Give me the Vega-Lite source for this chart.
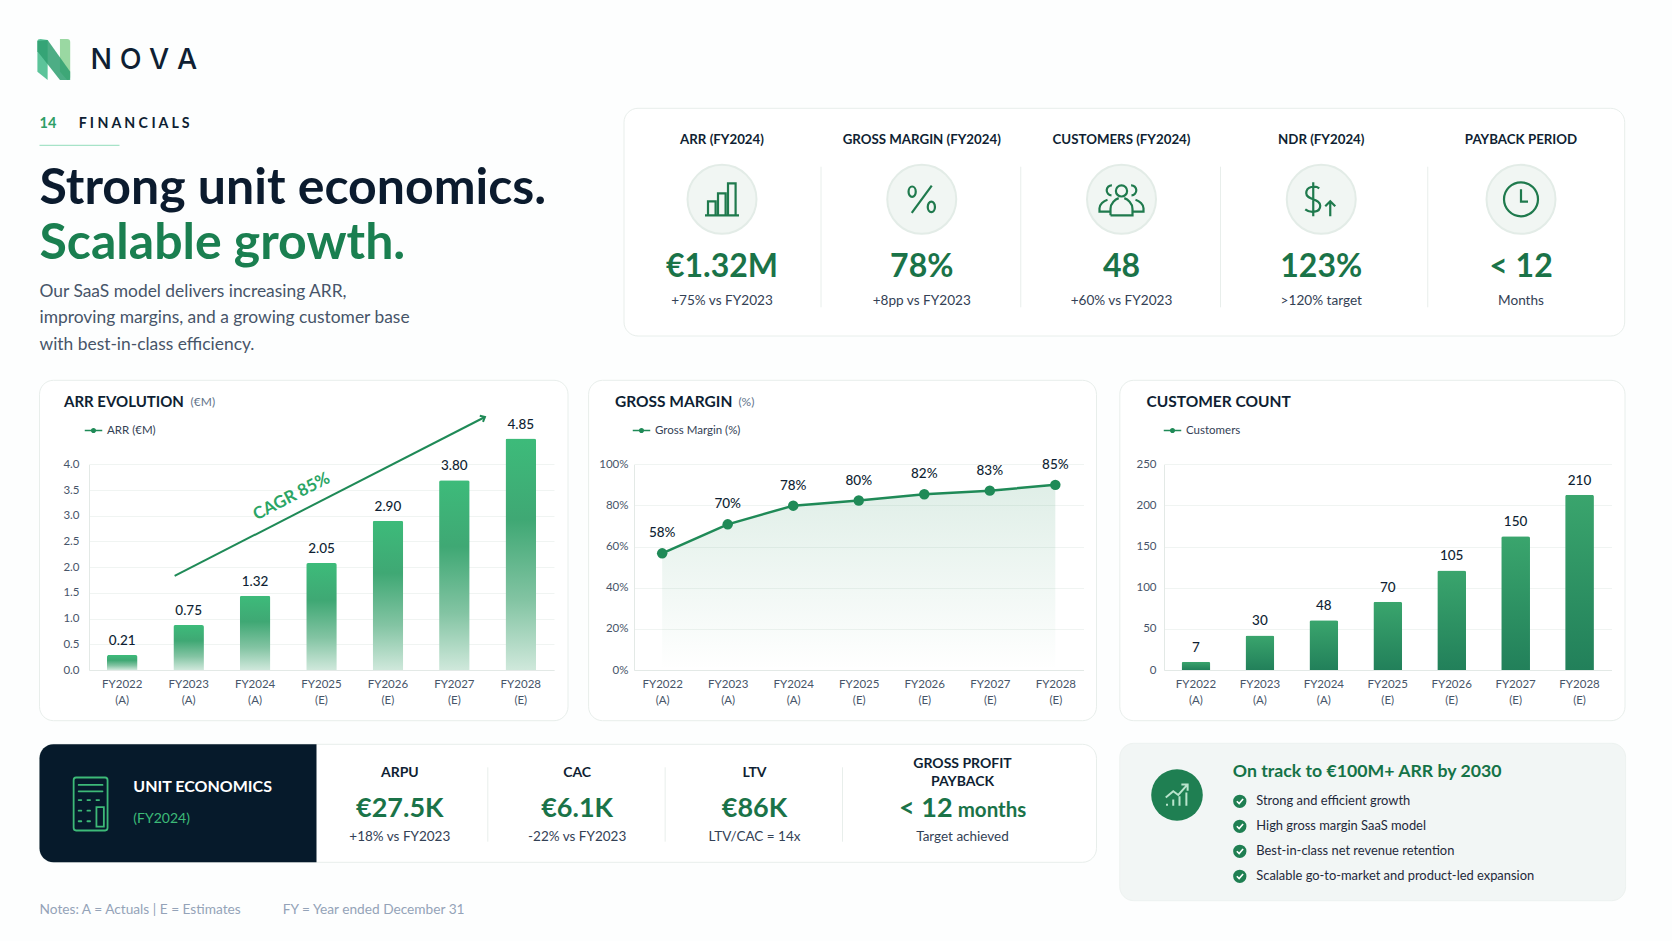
{
  "$schema": "https://vega.github.io/schema/vega-lite/v6.json",
  "background": "#fdfefe",
  "padding": 0,
  "bounds": "flush",
  "spacing": 80,
  "resolve": {"scale": {"color": "independent"}, "legend": {"color": "independent"}},
  "datasets": {
    "kpis": [
      {"metric": "ARR (FY2024)", "value": "€1.32M", "note": "+75% vs FY2023"},
      {"metric": "GROSS MARGIN (FY2024)", "value": "78%", "note": "+8pp vs FY2023"},
      {"metric": "CUSTOMERS (FY2024)", "value": "48", "note": "+60% vs FY2023"},
      {"metric": "NDR (FY2024)", "value": "123%", "note": ">120% target"},
      {"metric": "PAYBACK PERIOD", "value": "< 12", "note": "Months"}
    ],
    "unit": [
      {"metric": "ARPU", "value": "€27.5K", "note": "+18% vs FY2023"},
      {"metric": "CAC", "value": "€6.1K", "note": "-22% vs FY2023"},
      {"metric": "LTV", "value": "€86K", "note": "LTV/CAC = 14x"}
    ],
    "points": [
      {"item": "Strong and efficient growth"},
      {"item": "High gross margin SaaS model"},
      {"item": "Best-in-class net revenue retention"},
      {"item": "Scalable go-to-market and product-led expansion"}
    ],
    "arr": [
      {"year": "FY2022 (A)", "bar": 0.29, "label": "0.21"},
      {"year": "FY2023 (A)", "bar": 0.875, "label": "0.75"},
      {"year": "FY2024 (A)", "bar": 1.445, "label": "1.32"},
      {"year": "FY2025 (E)", "bar": 2.08, "label": "2.05"},
      {"year": "FY2026 (E)", "bar": 2.9, "label": "2.90"},
      {"year": "FY2027 (E)", "bar": 3.69, "label": "3.80"},
      {"year": "FY2028 (E)", "bar": 4.5, "label": "4.85"}
    ],
    "margin": [
      {"year": "FY2022 (A)", "pct": 56.7, "label": "58%"},
      {"year": "FY2023 (A)", "pct": 70.8, "label": "70%"},
      {"year": "FY2024 (A)", "pct": 79.9, "label": "78%"},
      {"year": "FY2025 (E)", "pct": 82.4, "label": "80%"},
      {"year": "FY2026 (E)", "pct": 85.4, "label": "82%"},
      {"year": "FY2027 (E)", "pct": 87.2, "label": "83%"},
      {"year": "FY2028 (E)", "pct": 90, "label": "85%"}
    ],
    "customers": [
      {"year": "FY2022 (A)", "bar": 10, "label": "7"},
      {"year": "FY2023 (A)", "bar": 42, "label": "30"},
      {"year": "FY2024 (A)", "bar": 60.4, "label": "48"},
      {"year": "FY2025 (E)", "bar": 83, "label": "70"},
      {"year": "FY2026 (E)", "bar": 121, "label": "105"},
      {"year": "FY2027 (E)", "bar": 162.5, "label": "150"},
      {"year": "FY2028 (E)", "bar": 213, "label": "210"}
    ]
  },
  "hconcat": [
    {
      "width": 9,
      "height": 941,
      "data": {"values": [{}]},
      "resolve": {"scale": {"x": "independent", "y": "independent", "shape": "independent"}},
      "layer": [
        {"mark": {"type": "rect", "fill": "#fdfefe"}, "encoding": {"x": {"value": 0}, "x2": {"value": 1672}, "y": {"value": 0}, "y2": {"value": 941}}},
        {"mark": {"type": "point", "filled": true, "fill": "#5cc49a", "opacity": 1, "size": 1681, "shape": "M-0.8,-0.9Q-0.8,-1 -0.65,-1L-0.3,-0.95L-0.3,1L-0.8,0.6Z"}, "encoding": {"x": {"value": 53.8}, "y": {"value": 59.5}}},
        {"mark": {"type": "point", "filled": true, "fill": "#9ad8a2", "opacity": 1, "size": 1681, "shape": "M0.3,-1L0.65,-1Q0.8,-1 0.8,-0.85L0.8,0.85Q0.8,1 0.65,1L0.3,0.6Z"}, "encoding": {"x": {"value": 53.8}, "y": {"value": 59.5}}},
        {"mark": {"type": "point", "filled": true, "fill": "#2e9f70", "opacity": 0.85, "size": 1681, "shape": "M-0.8,-0.9L-0.3,-0.95L0.8,0.6L0.8,1L0.3,1L-0.8,-0.4Z"}, "encoding": {"x": {"value": 53.8}, "y": {"value": 59.5}}},
        {"mark": {"type": "text", "align": "left", "baseline": "middle", "fontSize": 28.5, "fontWeight": 500, "font": "Inter", "color": "#0f1f33"}, "encoding": {"x": {"value": 90.5}, "y": {"value": 60}, "text": {"value": "N O V A"}}},
        {"mark": {"type": "text", "align": "left", "baseline": "middle", "fontSize": 14.5, "fontWeight": 700, "color": "#2e9e66"}, "encoding": {"x": {"value": 39.5}, "y": {"value": 124}, "text": {"value": "14"}}},
        {"mark": {"type": "text", "align": "left", "baseline": "middle", "fontSize": 14.2, "fontWeight": 700, "color": "#0f1f33"}, "encoding": {"x": {"value": 78.7}, "y": {"value": 124}, "text": {"value": "F I N A N C I A L S"}}},
        {"mark": {"type": "rule", "stroke": "#a7e3c8", "strokeWidth": 1.2}, "encoding": {"x": {"value": 39.5}, "x2": {"value": 119.5}, "y": {"value": 145.3}}},
        {"mark": {"type": "text", "align": "left", "baseline": "alphabetic", "fontSize": 50, "fontWeight": 700, "color": "#0b1b2e"}, "encoding": {"x": {"value": 39.5}, "y": {"value": 203.7}, "text": {"value": "Strong unit economics."}}},
        {"mark": {"type": "text", "align": "left", "baseline": "alphabetic", "fontSize": 50, "fontWeight": 700, "color": "#1a7f50"}, "encoding": {"x": {"value": 39.5}, "y": {"value": 259.3}, "text": {"value": "Scalable growth."}}},
        {"mark": {"type": "text", "align": "left", "baseline": "middle", "fontSize": 17.4, "color": "#475569"}, "encoding": {"x": {"value": 39.5}, "y": {"value": 291.7}, "text": {"value": "Our SaaS model delivers increasing ARR,"}}},
        {"mark": {"type": "text", "align": "left", "baseline": "middle", "fontSize": 17.4, "color": "#475569"}, "encoding": {"x": {"value": 39.5}, "y": {"value": 318.3}, "text": {"value": "improving margins, and a growing customer base"}}},
        {"mark": {"type": "text", "align": "left", "baseline": "middle", "fontSize": 17.4, "color": "#475569"}, "encoding": {"x": {"value": 39.5}, "y": {"value": 345}, "text": {"value": "with best-in-class efficiency."}}},

        {"mark": {"type": "rect", "fill": "#ffffff", "stroke": "#e8eeeb", "cornerRadius": 14}, "encoding": {"x": {"value": 624}, "x2": {"value": 1624.7}, "y": {"value": 108.3}, "y2": {"value": 336}}},
        {"mark": {"type": "rect", "fill": "#ffffff", "stroke": "#e8eeeb", "cornerRadius": 14}, "encoding": {"x": {"value": 39.5}, "x2": {"value": 568}, "y": {"value": 380.3}, "y2": {"value": 720.7}}},
        {"mark": {"type": "rect", "fill": "#ffffff", "stroke": "#e8eeeb", "cornerRadius": 14}, "encoding": {"x": {"value": 588.6}, "x2": {"value": 1096.5}, "y": {"value": 380.3}, "y2": {"value": 720.7}}},
        {"mark": {"type": "rect", "fill": "#ffffff", "stroke": "#e8eeeb", "cornerRadius": 14}, "encoding": {"x": {"value": 1119.8}, "x2": {"value": 1625}, "y": {"value": 380.3}, "y2": {"value": 720.7}}},
        {"mark": {"type": "rect", "fill": "#ffffff", "stroke": "#e8eeeb", "cornerRadius": 14}, "encoding": {"x": {"value": 39.5}, "x2": {"value": 1096.5}, "y": {"value": 744.3}, "y2": {"value": 862.3}}},
        {"mark": {"type": "rect", "fill": "#061a2b", "cornerRadiusTopLeft": 14, "cornerRadiusBottomLeft": 14}, "encoding": {"x": {"value": 39.5}, "x2": {"value": 316.5}, "y": {"value": 744.3}, "y2": {"value": 862.3}}},
        {"mark": {"type": "rect", "fill": "#f2f6f5", "stroke": "#edf2f0", "cornerRadius": 14}, "encoding": {"x": {"value": 1119.8}, "x2": {"value": 1625.6}, "y": {"value": 743.3}, "y2": {"value": 900.7}}},

        {"mark": {"type": "text", "align": "left", "baseline": "middle", "fontSize": 15, "fontWeight": 700, "color": "#0f1f33"}, "encoding": {"x": {"value": 64}, "y": {"value": 401.7}, "text": {"value": "ARR EVOLUTION"}}},
        {"mark": {"type": "text", "align": "left", "baseline": "middle", "fontSize": 12, "color": "#64748b"}, "encoding": {"x": {"value": 190.6}, "y": {"value": 402}, "text": {"value": "(€M)"}}},
        {"mark": {"type": "text", "align": "left", "baseline": "middle", "fontSize": 15.5, "fontWeight": 700, "color": "#0f1f33"}, "encoding": {"x": {"value": 615}, "y": {"value": 401.7}, "text": {"value": "GROSS MARGIN"}}},
        {"mark": {"type": "text", "align": "left", "baseline": "middle", "fontSize": 12, "color": "#64748b"}, "encoding": {"x": {"value": 738.4}, "y": {"value": 402}, "text": {"value": "(%)"}}},
        {"mark": {"type": "text", "align": "left", "baseline": "middle", "fontSize": 15.5, "fontWeight": 700, "color": "#0f1f33"}, "encoding": {"x": {"value": 1146.5}, "y": {"value": 401.7}, "text": {"value": "CUSTOMER COUNT"}}},

        {
          "data": {"name": "kpis"},
          "encoding": {"x": {"field": "metric", "type": "nominal", "axis": null, "sort": null, "scale": {"type": "point", "range": [722, 1521], "padding": 0}}},
          "layer": [
            {"transform": [{"filter": "datum.metric != 'PAYBACK PERIOD' && datum.metric != 'NDR (FY2024)'"}], "mark": {"type": "rule", "stroke": "#e8eeeb", "xOffset": 99}, "encoding": {"y": {"value": 166.7}, "y2": {"value": 307.3}}},
            {"transform": [{"filter": "datum.metric == 'NDR (FY2024)'"}], "mark": {"type": "rule", "stroke": "#e8eeeb", "xOffset": 106.5}, "encoding": {"y": {"value": 166.7}, "y2": {"value": 307.3}}},
            {"mark": {"type": "point", "filled": true, "fill": "#f1f6f3", "stroke": "#e3ece7", "opacity": 1, "shape": "circle", "size": 4761}, "encoding": {"y": {"value": 199.3}}},
            {"mark": {"type": "point", "filled": false, "stroke": "#1f7a4d", "strokeWidth": 2.2, "opacity": 1, "size": 1600}, "encoding": {"y": {"value": 199.3}, "shape": {"field": "metric", "type": "nominal", "legend": null, "sort": null, "scale": {"domain": ["ARR (FY2024)", "GROSS MARGIN (FY2024)", "CUSTOMERS (FY2024)", "NDR (FY2024)", "PAYBACK PERIOD"], "range": [
              "M-0.85,0.8H0.85M-0.7,0.8V0.1H-0.32V0.8M-0.2,0.8V-0.3H0.18V0.8M0.3,0.8V-0.8H0.68V0.8",
              "M0.5,-0.68L-0.5,0.68M-0.66,-0.38a0.18,0.26 0 1,0 0.36,0a0.18,0.26 0 1,0 -0.36,0M0.3,0.38a0.18,0.26 0 1,0 0.36,0a0.18,0.26 0 1,0 -0.36,0",
              "M-0.28,-0.42a0.28,0.28 0 1,1 0.56,0a0.28,0.28 0 1,1 -0.56,0M-0.55,0.8V0.48C-0.55,0.18 -0.3,0 -0.14,-0.06M0.14,-0.06C0.3,0 0.55,0.18 0.55,0.48V0.8H-0.55M-0.48,-0.7A0.25,0.25 0 0,0 -0.5,-0.2M-0.7,0.02C-0.9,0.08 -1.1,0.25 -1.1,0.45V0.62H-0.55M0.48,-0.7A0.25,0.25 0 0,1 0.5,-0.2M0.7,0.02C0.9,0.08 1.1,0.25 1.1,0.45V0.62H0.55",
              "M-0.1,-0.55C-0.3,-0.7 -0.75,-0.65 -0.75,-0.3C-0.75,0.05 -0.05,-0.05 -0.05,0.32C-0.05,0.68 -0.55,0.7 -0.8,0.5M-0.4,-0.85V0.85M0.45,0.85V0.1M0.2,0.35L0.45,0.1L0.7,0.35",
              "M-0.85,0a0.85,0.85 0 1,1 1.7,0a0.85,0.85 0 1,1 -1.7,0M0,-0.5V0.12H0.35"
            ]}}}},
            {"mark": {"type": "text", "baseline": "middle", "fontSize": 13.3, "fontWeight": 700, "color": "#0f1f33"}, "encoding": {"y": {"value": 140}, "text": {"field": "metric"}}},
            {"mark": {"type": "text", "baseline": "middle", "fontSize": 32, "fontWeight": 700, "color": "#1a7348"}, "encoding": {"y": {"value": 266.7}, "text": {"field": "value"}}},
            {"mark": {"type": "text", "baseline": "middle", "fontSize": 13.6, "color": "#334155"}, "encoding": {"y": {"value": 301}, "text": {"field": "note"}}}
          ]
        },

        {"mark": {"type": "point", "filled": false, "stroke": "#3dba78", "strokeWidth": 1.8, "strokeCap": "round", "opacity": 1, "size": 2809, "shape": "M-0.55,-1H0.55Q0.64,-1 0.64,-0.9V0.9Q0.64,1 0.55,1H-0.55Q-0.64,1 -0.64,0.9V-0.9Q-0.64,-1 -0.55,-1ZM-0.45,-0.72H0.45M-0.45,-0.48H0.45M-0.45,-0.15h0.1M-0.12,-0.15h0.1M0.22,-0.15h0.1M-0.45,0.25h0.1M-0.12,0.25h0.1M-0.45,0.65h0.1M-0.12,0.65h0.1M0.22,0.12H0.5V0.85H0.22Z"}, "encoding": {"x": {"value": 90.6}, "y": {"value": 804}}},
        {"mark": {"type": "text", "align": "left", "baseline": "middle", "fontSize": 16, "fontWeight": 700, "color": "#ffffff"}, "encoding": {"x": {"value": 133.3}, "y": {"value": 787.3}, "text": {"value": "UNIT ECONOMICS"}}},
        {"mark": {"type": "text", "align": "left", "baseline": "middle", "fontSize": 14, "color": "#3dba78"}, "encoding": {"x": {"value": 133.3}, "y": {"value": 819}, "text": {"value": "(FY2024)"}}},
        {
          "data": {"name": "unit"},
          "encoding": {"x": {"field": "metric", "type": "nominal", "axis": null, "sort": null, "scale": {"type": "point", "range": [399.8, 754.5], "padding": 0}}},
          "layer": [
            {"mark": {"type": "rule", "stroke": "#e8eeeb", "xOffset": 88}, "encoding": {"y": {"value": 767.3}, "y2": {"value": 841.7}}},
            {"mark": {"type": "text", "baseline": "middle", "fontSize": 14, "fontWeight": 700, "color": "#0f1f33"}, "encoding": {"y": {"value": 773.3}, "text": {"field": "metric"}}},
            {"mark": {"type": "text", "baseline": "middle", "fontSize": 27, "fontWeight": 700, "color": "#1a7348"}, "encoding": {"y": {"value": 809}, "text": {"field": "value"}}},
            {"mark": {"type": "text", "baseline": "middle", "fontSize": 13.5, "color": "#334155"}, "encoding": {"y": {"value": 837}, "text": {"field": "note"}}}
          ]
        },
        {"mark": {"type": "text", "baseline": "middle", "fontSize": 14, "fontWeight": 700, "color": "#0f1f33"}, "encoding": {"x": {"value": 962.5}, "y": {"value": 764.3}, "text": {"value": "GROSS PROFIT"}}},
        {"mark": {"type": "text", "baseline": "middle", "fontSize": 14, "fontWeight": 700, "color": "#0f1f33"}, "encoding": {"x": {"value": 962.5}, "y": {"value": 781.7}, "text": {"value": "PAYBACK"}}},
        {"mark": {"type": "text", "align": "left", "baseline": "middle", "fontSize": 27, "fontWeight": 700, "color": "#1a7348"}, "encoding": {"x": {"value": 899}, "y": {"value": 809}, "text": {"value": "< 12"}}},
        {"mark": {"type": "text", "align": "left", "baseline": "middle", "fontSize": 20.5, "fontWeight": 700, "color": "#1a7348"}, "encoding": {"x": {"value": 957.7}, "y": {"value": 811}, "text": {"value": "months"}}},
        {"mark": {"type": "text", "baseline": "middle", "fontSize": 13.5, "color": "#334155"}, "encoding": {"x": {"value": 962.5}, "y": {"value": 837}, "text": {"value": "Target achieved"}}},

        {"mark": {"type": "point", "filled": true, "fill": "#1f7f52", "opacity": 1, "shape": "circle", "size": 2663}, "encoding": {"x": {"value": 1177}, "y": {"value": 795}}},
        {"mark": {"type": "point", "filled": false, "stroke": "#b9e4cc", "strokeWidth": 2, "opacity": 1, "size": 625, "shape": "M-0.8,0.85V0.7M-0.3,0.85V0.35M0.2,0.85V0.1M0.75,0.85V-0.2M-0.9,0.2L-0.3,-0.3L0.1,0L0.85,-0.85M0.35,-0.85H0.85V-0.35"}, "encoding": {"x": {"value": 1177}, "y": {"value": 795}}},
        {"mark": {"type": "text", "align": "left", "baseline": "middle", "fontSize": 17.7, "fontWeight": 700, "color": "#157347"}, "encoding": {"x": {"value": 1232.8}, "y": {"value": 771.7}, "text": {"value": "On track to €100M+ ARR by 2030"}}},
        {
          "data": {"name": "points"},
          "encoding": {"y": {"field": "item", "type": "nominal", "axis": null, "sort": null, "scale": {"type": "point", "range": [801.3, 876.3], "padding": 0}}},
          "layer": [
            {"mark": {"type": "point", "filled": true, "fill": "#1f7f52", "opacity": 1, "shape": "circle", "size": 177}, "encoding": {"x": {"value": 1239.8}}},
            {"mark": {"type": "point", "filled": false, "stroke": "#ffffff", "strokeWidth": 1.6, "opacity": 1, "size": 175, "shape": "M-0.45,0L-0.1,0.35L0.5,-0.35"}, "encoding": {"x": {"value": 1239.8}}},
            {"mark": {"type": "text", "align": "left", "baseline": "middle", "fontSize": 12.9, "color": "#1e293b"}, "encoding": {"x": {"value": 1256.3}, "text": {"field": "item"}}}
          ]
        },
        {"mark": {"type": "text", "align": "left", "baseline": "middle", "fontSize": 13.7, "color": "#94a3b8"}, "encoding": {"x": {"value": 39.5}, "y": {"value": 910}, "text": {"value": "Notes: A = Actuals | E = Estimates"}}},
        {"mark": {"type": "text", "align": "left", "baseline": "middle", "fontSize": 13.7, "color": "#94a3b8"}, "encoding": {"x": {"value": 282.8}, "y": {"value": 910}, "text": {"value": "FY = Year ended December 31"}}}
      ]
    },
    {
      "width": 465,
      "height": 670,
      "data": {"name": "arr"},
      "encoding": {
        "x": {"field": "year", "type": "nominal", "sort": null, "title": null, "scale": {"paddingInner": 0.54, "paddingOuter": 0.27, "round": false}, "axis": {"labelExpr": "split(datum.label,' ')", "labelAngle": 0, "labelPadding": 8, "labelLineHeight": 16.7, "labelFontSize": 11.5, "labelColor": "#475569", "ticks": false, "domainColor": "#e3e9e6", "grid": false}},
        "y": {"field": "bar", "type": "quantitative", "title": null, "scale": {"domain": [0, 4], "range": [670, 464.3], "nice": false}, "axis": {"tickCount": 9, "format": ".1f", "labelPadding": 10, "labelFontSize": 11.5, "labelColor": "#475569", "ticks": false, "domainColor": "#e3e9e6", "grid": true, "gridColor": "#f0f4f2"}}
      },
      "layer": [
        {"mark": {"type": "bar", "cornerRadiusTopLeft": 2, "cornerRadiusTopRight": 2, "color": {"gradient": "linear", "x1": 0, "y1": 0, "x2": 0, "y2": 1, "stops": [{"offset": 0, "color": "#3dbb7a"}, {"offset": 0.35, "color": "#3fa874"}, {"offset": 0.7, "color": "#83c4a3"}, {"offset": 1, "color": "#cfe8db"}]}}},
        {"mark": {"type": "text", "baseline": "middle", "dy": -14, "fontSize": 13.5, "fontWeight": 500, "color": "#0f1f33"}, "encoding": {"text": {"field": "label"}}},
        {"data": {"values": [{"from": "FY2023 (A)", "to": "FY2027 (E)", "low": 1.83, "high": 4.92}]}, "mark": {"type": "rule", "stroke": "#1f8a57", "strokeWidth": 2, "xOffset": -14, "x2Offset": 30.6}, "encoding": {"x": {"field": "from", "type": "nominal"}, "x2": {"field": "to"}, "y": {"field": "low", "type": "quantitative"}, "y2": {"field": "high"}}},
        {"data": {"values": [{"to": "FY2027 (E)", "high": 4.92}]}, "mark": {"type": "point", "filled": false, "stroke": "#1f8a57", "strokeWidth": 2, "opacity": 1, "size": 100, "angle": 62.8, "xOffset": 30.6, "shape": "M-0.7,0.8L0,0L0.7,0.8"}, "encoding": {"x": {"field": "to", "type": "nominal"}, "y": {"field": "high", "type": "quantitative"}}},
        {"data": {"values": [{"year": "FY2024 (A)", "at": 3.37, "note": "CAGR 85%"}]}, "mark": {"type": "text", "baseline": "middle", "fontSize": 17, "fontWeight": 700, "color": "#2aa565", "angle": 332.6, "xOffset": 36.6}, "encoding": {"y": {"field": "at", "type": "quantitative"}, "text": {"field": "note"}}},
        {"data": {"values": [{"year": "FY2028 (E)", "bar": 0}]}, "mark": {"type": "point", "filled": true, "size": 0}, "encoding": {"color": {"datum": "ARR (€M)", "scale": {"range": ["#1f8a57"]}, "legend": {"title": null, "orient": "none", "legendX": -5, "legendY": 421, "symbolType": "M-1,-0.08L1,-0.08L1,0.08L-1,0.08ZM-0.3,0a0.3,0.3 0 1,1 0.6,0a0.3,0.3 0 1,1 -0.6,0Z", "symbolSize": 306, "symbolOpacity": 1, "labelFontSize": 11.5, "labelColor": "#334155"}}}}
      ]
    },
    {
      "width": 449.5,
      "height": 670,
      "data": {"name": "margin"},
      "encoding": {
        "x": {"field": "year", "type": "nominal", "sort": null, "title": null, "scale": {"type": "point", "padding": 0.43, "round": false}, "axis": {"labelExpr": "split(datum.label,' ')", "labelAngle": 0, "labelPadding": 8, "labelLineHeight": 16.7, "labelFontSize": 11.5, "labelColor": "#475569", "ticks": false, "domainColor": "#e3e9e6", "grid": false}},
        "y": {"field": "pct", "type": "quantitative", "title": null, "scale": {"domain": [0, 100], "range": [670, 464.3], "nice": false}, "axis": {"values": [0, 20, 40, 60, 80, 100], "labelExpr": "datum.value + '%'", "labelPadding": 6, "labelFontSize": 11.5, "labelColor": "#475569", "ticks": false, "domainColor": "#e3e9e6", "grid": true, "gridColor": "#f0f4f2"}}
      },
      "layer": [
        {"mark": {"type": "area", "color": {"gradient": "linear", "x1": 0, "y1": 0, "x2": 0, "y2": 1, "stops": [{"offset": 0, "color": "rgba(31,138,87,0.14)"}, {"offset": 1, "color": "rgba(31,138,87,0)"}]}}},
        {"mark": {"type": "line", "stroke": "#1f8a57", "strokeWidth": 2.5}},
        {"mark": {"type": "point", "filled": true, "fill": "#1f8a57", "opacity": 1, "size": 110}},
        {"mark": {"type": "text", "baseline": "middle", "dy": -20, "fontSize": 13.5, "fontWeight": 500, "color": "#0f1f33"}, "encoding": {"text": {"field": "label"}}},
        {"data": {"values": [{"year": "FY2028 (E)", "pct": 0}]}, "mark": {"type": "point", "filled": true, "size": 0}, "encoding": {"color": {"datum": "Gross Margin (%)", "scale": {"range": ["#1f8a57"]}, "legend": {"title": null, "orient": "none", "legendX": -2, "legendY": 421, "symbolType": "M-1,-0.08L1,-0.08L1,0.08L-1,0.08ZM-0.3,0a0.3,0.3 0 1,1 0.6,0a0.3,0.3 0 1,1 -0.6,0Z", "symbolSize": 306, "symbolOpacity": 1, "labelFontSize": 11.5, "labelColor": "#334155"}}}}
      ]
    },
    {
      "width": 447.5,
      "height": 670,
      "data": {"name": "customers"},
      "encoding": {
        "x": {"field": "year", "type": "nominal", "sort": null, "title": null, "scale": {"paddingInner": 0.55, "paddingOuter": 0.275, "round": false}, "axis": {"labelExpr": "split(datum.label,' ')", "labelAngle": 0, "labelPadding": 8, "labelLineHeight": 16.7, "labelFontSize": 11.5, "labelColor": "#475569", "ticks": false, "domainColor": "#e3e9e6", "grid": false}},
        "y": {"field": "bar", "type": "quantitative", "title": null, "scale": {"domain": [0, 250], "range": [670, 464.3], "nice": false}, "axis": {"values": [0, 50, 100, 150, 200, 250], "labelPadding": 8, "labelFontSize": 11.5, "labelColor": "#475569", "ticks": false, "domainColor": "#e3e9e6", "grid": true, "gridColor": "#f0f4f2"}}
      },
      "layer": [
        {"mark": {"type": "bar", "cornerRadiusTopLeft": 2, "cornerRadiusTopRight": 2, "color": {"gradient": "linear", "x1": 0, "y1": 0, "x2": 0, "y2": 1, "stops": [{"offset": 0, "color": "#3aa56d"}, {"offset": 1, "color": "#22805a"}]}}},
        {"mark": {"type": "text", "baseline": "middle", "dy": -14, "fontSize": 13.5, "fontWeight": 500, "color": "#0f1f33"}, "encoding": {"text": {"field": "label"}}},
        {"data": {"values": [{"year": "FY2028 (E)", "bar": 0}]}, "mark": {"type": "point", "filled": true, "size": 0}, "encoding": {"color": {"datum": "Customers", "scale": {"range": ["#1f8a57"]}, "legend": {"title": null, "orient": "none", "legendX": -1, "legendY": 421, "symbolType": "M-1,-0.08L1,-0.08L1,0.08L-1,0.08ZM-0.3,0a0.3,0.3 0 1,1 0.6,0a0.3,0.3 0 1,1 -0.6,0Z", "symbolSize": 306, "symbolOpacity": 1, "labelFontSize": 11.5, "labelColor": "#334155"}}}}
      ]
    }
  ],
  "config": {"view": {"stroke": null}, "font": "Lato", "axis": {"labelFont": "Lato"}, "legend": {"labelFont": "Lato"}}
}
